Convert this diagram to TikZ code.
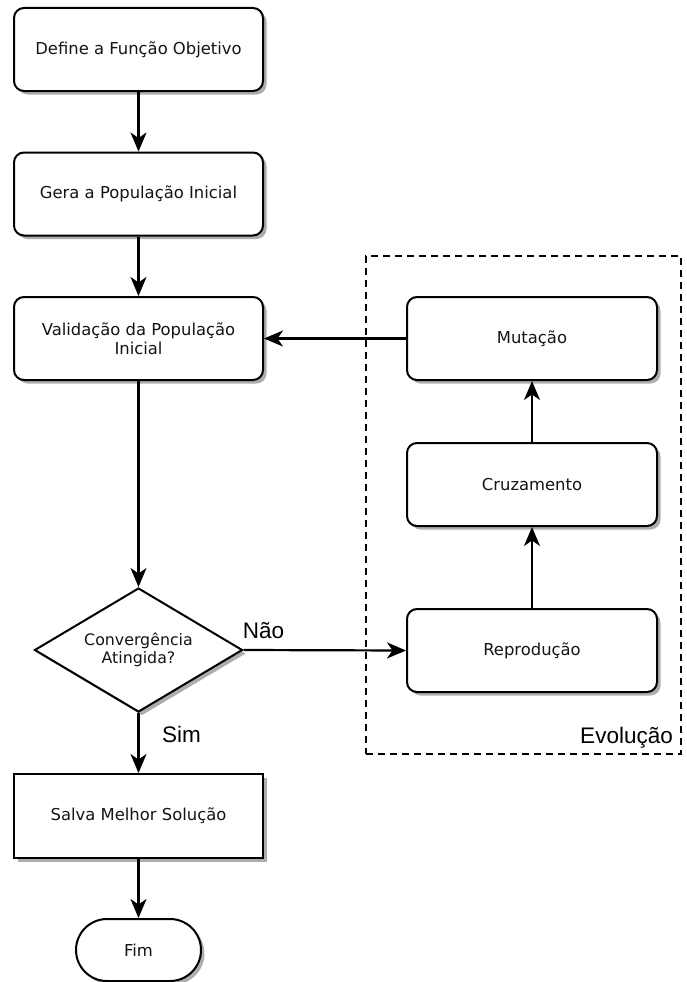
\documentclass[tikz,border=0pt]{standalone}
\usepackage{fontspec}
\setmainfont{DejaVu Sans}
\newfontfamily\labelfont{Liberation Sans}
\usetikzlibrary{shapes.geometric,arrows.meta,shadows}

\begin{document}
\begin{tikzpicture}[x=1pt,y=-1pt,
  shadowed/.style={drop shadow={shadow xshift=3.5pt,shadow yshift=-3.5pt,fill=black!32,opacity=1}},
  txt/.style={text=black!92,font=\fontsize{16.4}{18.5}\selectfont,align=center},
  stepbox/.style={draw=black,line width=2pt,rounded corners=10pt,fill=white,
    minimum width=249pt,minimum height=83pt,inner sep=0pt,txt,shadowed},
  evobox/.style={stepbox,minimum width=250pt},
  plainbox/.style={draw=black,line width=2pt,fill=white,
    minimum width=249pt,minimum height=84pt,inner sep=0pt,txt,shadowed},
  decision/.style={draw=black,line width=2pt,fill=white,diamond,aspect=1.68,
    minimum width=208pt,minimum height=124pt,inner sep=0pt,txt,
    font=\fontsize{15.8}{18}\selectfont,shadowed},
  terminal/.style={draw=black,line width=2pt,fill=white,rounded corners=31pt,
    minimum width=125pt,minimum height=62pt,inner sep=0pt,txt,shadowed},
  tip/.style={-{Stealth[length=19pt,width=16pt,inset=5.5pt]}},
  arr/.style={line width=2.2pt,tip},
  thinarr/.style={line width=1.5pt,tip},
  lab/.style={inner sep=0pt,font=\labelfont\fontsize{22.5}{26}\selectfont,text=black},
  group/.style={draw=black,line width=2.2pt,dash pattern=on 7pt off 5pt,
    minimum width=315pt,minimum height=498pt,inner sep=0pt}
]
\useasboundingbox (0,0) rectangle (686,982);
\fill[white] (0,0) rectangle (686,982);

% evolution group frame
\node[group] (evo) at (523.5,505) {};
\node[lab,anchor=base east] (evolabel) at (673,743) {Evolução};

% main column
\node[stepbox] (obj) at (138.5,49.5) {Define a Função Objetivo};
\node[stepbox] (pop) at (138.5,194) {Gera a População Inicial};
\node[stepbox] (val) at (138.5,338.5) {Validação da População\\Inicial};
\node[decision] (conv) at (138.5,650) {Convergência\\Atingida?};
\node[plainbox] (best) at (138.5,816) {Salva Melhor Solução};
\node[terminal] (fim) at (138.5,950) {Fim};

% evolution steps
\node[evobox] (mut) at (532,338.5) {Mutação};
\node[evobox] (cross) at (532,484.5) {Cruzamento};
\node[evobox] (repro) at (532,650.5) {Reprodução};

% connectors
\draw[arr] (obj) -- (pop);
\draw[arr] (pop) -- (val);
\draw[arr] (val) -- (conv);
\draw[arr] (conv) -- (best);
\draw[arr] (best) -- (fim);
\draw[arr] (conv.east) -- (repro.west);
\draw[thinarr] (repro) -- (cross);
\draw[thinarr] (cross) -- (mut);
\draw[arr] (mut.west) -- (val.east);

% branch labels
\node[lab,anchor=base west] (nao) at (242.7,638) {Não};
\node[lab,anchor=base west] (sim) at (162,742) {Sim};
\end{tikzpicture}
\end{document}
